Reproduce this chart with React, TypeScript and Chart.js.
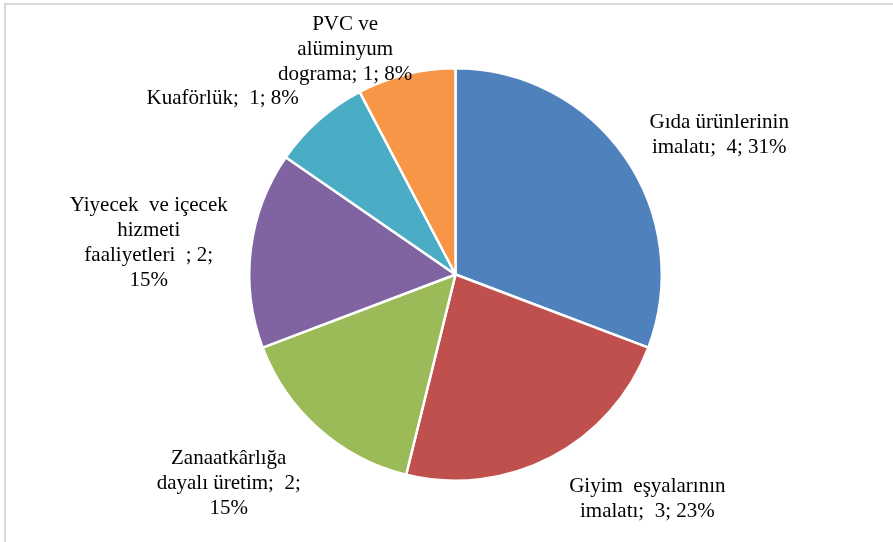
import React, { useEffect, useRef } from "react";
import { Chart, registerables } from "chart.js";

Chart.register(...registerables);

const categories = [
  "Gıda ürünlerinin imalatı",
  "Giyim eşyalarının imalatı",
  "Zanaatkârlığa dayalı üretim",
  "Yiyecek ve içecek hizmeti faaliyetleri",
  "Kuaförlük",
  "PVC ve alüminyum dograma",
];
const values = [4, 3, 2, 2, 1, 1];
const percents = ["31%", "23%", "15%", "15%", "8%", "8%"];
const labelLines = [
  ["Gıda ürünlerinin", "imalatı;  4; 31%"],
  ["Giyim  eşyalarının", "imalatı;  3; 23%"],
  ["Zanaatkârlığa", "dayalı üretim;  2;", "15%"],
  ["Yiyecek  ve içecek", "hizmeti", "faaliyetleri  ; 2;", "15%"],
  ["Kuaförlük;  1; 8%"],
  ["PVC ve", "alüminyum", "dograma; 1; 8%"],
];
const colors = ["#4F81BD", "#C0504D", "#9BBB59", "#8064A2", "#4BACC6", "#F79646"];

// label centre offsets relative to the arc's outer mid point (layout only)
const labelOffsets: [number, number][] = [
  [94, -22],
  [96, 42],
  [-90, 55],
  [-102, -7],
  [-96, -22],
  [-61, -25],
];

const FONT_SIZE = 21;
const LINE_H = 25;

const labelPlugin = {
  id: "outerLabels",
  afterDraw(chart: any) {
    const ctx = chart.ctx;
    const meta = chart.getDatasetMeta(0);
    ctx.save();
    ctx.font = `${FONT_SIZE}px "Liberation Serif", "Times New Roman", serif`;
    ctx.fillStyle = "#000000";
    ctx.textAlign = "center";
    ctx.textBaseline = "middle";
    meta.data.forEach((arc: any, i: number) => {
      const p = arc.getProps(["x", "y", "startAngle", "endAngle", "outerRadius"], true);
      const mid = (p.startAngle + p.endAngle) / 2;
      const ax = p.x + Math.cos(mid) * p.outerRadius;
      const ay = p.y + Math.sin(mid) * p.outerRadius;
      const lines = labelLines[i];
      const cx = ax + labelOffsets[i][0];
      const cy = ay + labelOffsets[i][1];
      const top = cy - ((lines.length - 1) * LINE_H) / 2;
      lines.forEach((ln, j) => ctx.fillText(ln, cx, top + j * LINE_H));
    });
    ctx.restore();
  },
};

export default function App() {
  const ref = useRef<HTMLCanvasElement | null>(null);
  useEffect(() => {
    if (!ref.current) return;
    const chart = new Chart(ref.current, {
      type: "pie",
      data: {
        labels: categories,
        datasets: [
          {
            data: values,
            backgroundColor: colors,
            borderColor: "#ffffff",
            borderWidth: 2.5,
          },
        ],
      },
      options: {
        animation: false,
        responsive: false,
        layout: { padding: { left: 248, right: 230, top: 67, bottom: 60 } },
        plugins: {
          legend: { display: false },
          tooltip: { enabled: false },
        },
      },
      plugins: [labelPlugin],
    });
    return () => chart.destroy();
  }, []);
  return (
    <div style={{ position: "fixed", left: 0, top: 0, width: 893, height: 542, background: "#fff", overflow: "hidden" }}>
      <div
        style={{
          position: "absolute",
          left: 4,
          top: 3,
          width: 1000,
          height: 1000,
          border: "2px solid #d9d9d9",
        }}
      />
      <canvas ref={ref} width={893} height={542} style={{ position: "absolute", left: 0, top: 0 }} />
    </div>
  );
}
